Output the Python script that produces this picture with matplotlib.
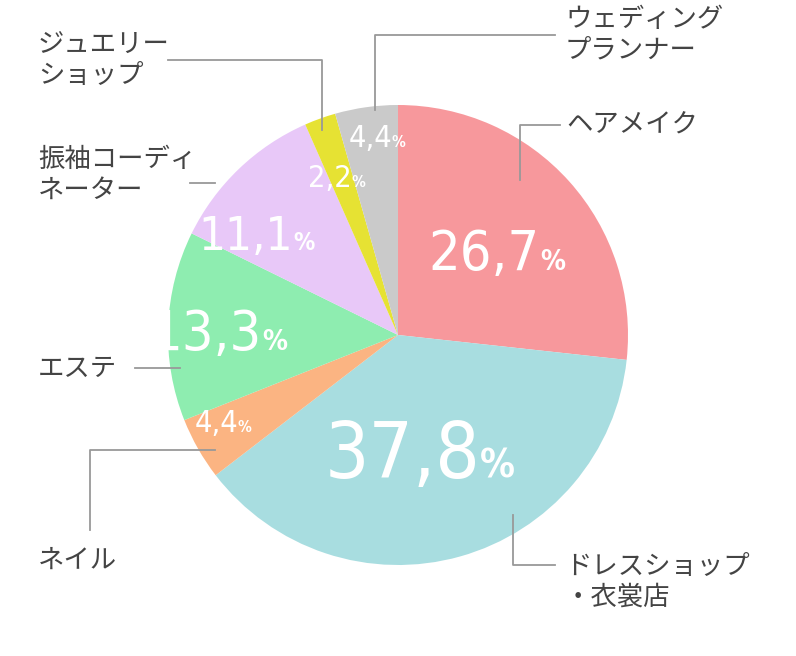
import matplotlib
matplotlib.use("Agg")
import matplotlib.pyplot as plt

labels = ["ヘアメイク", "ドレスショップ\n・衣裳店", "ネイル", "エステ", "振袖コーディ\nネーター", "ジュエリー\nショップ", "ウェディング\nプランナー"]
values = [26.7, 37.8, 4.4, 13.3, 11.1, 2.2, 4.4]
pct_text = ["26,7", "37,8", "4,4", "13,3", "11,1", "2,2", "4,4"]
colors = ["#F7989C", "#A8DDE0", "#FBB482", "#8EEDB0", "#E8C8F8", "#E6E233", "#CACACA"]

W, H = 796, 656
fig = plt.figure(figsize=(W/100, H/100), dpi=100)
cx, cy, R = 398, 335, 230
ax = fig.add_axes([(cx-R)/W, (H-cy-R)/H, 2*R/W, 2*R/H])
ax.pie(values, colors=colors, startangle=90, counterclock=False, radius=1,
       wedgeprops=dict(linewidth=0))
ax.set_xlim(-1, 1); ax.set_ylim(-1, 1); ax.set_aspect('equal'); ax.axis('off')

def P(px, py):
    return ((px-cx)/R, (cy-py)/R)

# percent labels: (x split point px, baseline px, number size pt)
pct_pos = [(540, 270, 40), (480, 478, 56), (238, 432, 22), (262, 350, 40), (293, 250, 34), (352, 187, 22), (392, 147, 22)]
for t, (px, py, s) in zip(pct_text, pct_pos):
    x, y = P(px, py)
    ax.text(x, y, t, color="white", fontsize=s, family="DejaVu Sans", fontstretch="condensed",
            ha="right", va="baseline", clip_on=False)
    ax.text(x, y, "%", color="white", fontsize=s*0.5, family="DejaVu Sans", fontweight="bold",
            fontstretch="condensed", ha="left", va="baseline", clip_on=False)

lc = "#999999"
lines = [
    [(520, 180), (520, 125), (560, 125)],
    [(513, 515), (513, 565), (555, 565)],
    [(215, 450), (90, 450), (90, 530)],
    [(180, 368), (135, 368)],
    [(215, 183), (190, 183)],
    [(168, 60), (322, 60), (322, 130)],
    [(375, 110), (375, 35), (555, 35)],
]
for ln in lines:
    pts = [P(*p) for p in ln]
    ax.plot([p[0] for p in pts], [p[1] for p in pts], color=lc, lw=1.3, clip_on=False)

fam = ["Noto Sans CJK JP", "DejaVu Sans"]
lab_pos = [(566, 125, "left"), (565, 582, "left"), (38, 560, "left"), (38, 368, "left"),
           (38, 175, "left"), (38, 60, "left"), (565, 35, "left")]
for t, (px, py, ha) in zip(labels, lab_pos):
    x, y = P(px, py)
    ax.text(x, y, t, fontsize=19, color="#444444", family=fam, ha=ha, va="center",
            linespacing=1.15, clip_on=False)

fig.savefig("out.png", dpi=100)
